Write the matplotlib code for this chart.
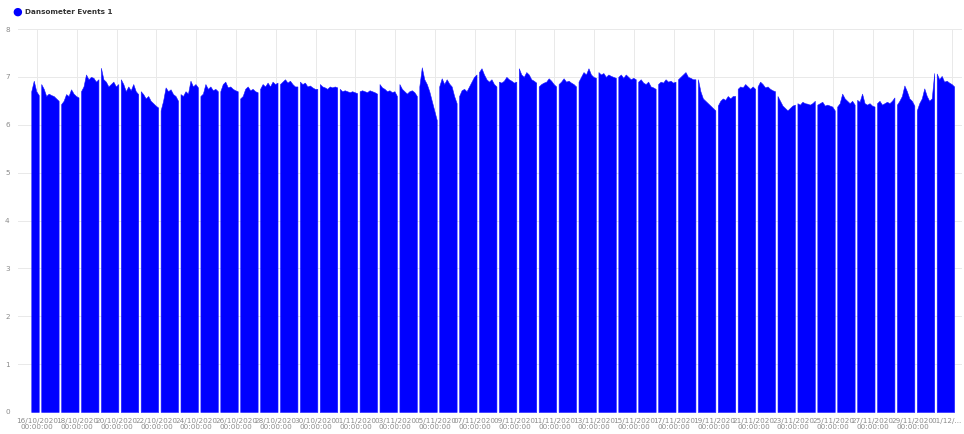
import numpy as np
import pandas as pd
import matplotlib
matplotlib.use("Agg")
import matplotlib.pyplot as plt
import matplotlib.dates as mdates
import matplotlib.transforms as mtransforms

# one block of readings per day, sampled at these hours (26 = 02:00 next day)
slot_hours = [5, 8, 11, 14, 17, 20, 23, 26]
day_start = "2020-10-15"
nan = np.nan

daily_values = [
    [nan, nan, nan, nan, 6.70, 6.92, 6.70, 6.62],  # 15/10 (partial)
    [6.85, 6.75, 6.60, 6.65, 6.62, 6.60, 6.55, 6.50],  # 16/10
    [6.43, 6.50, 6.64, 6.60, 6.74, 6.65, 6.60, 6.57],
    [6.70, 6.80, 7.05, 6.95, 7.00, 6.98, 6.90, 6.95],
    [7.19, 6.95, 6.90, 6.80, 6.85, 6.90, 6.80, 6.85],
    [6.95, 6.85, 6.70, 6.80, 6.72, 6.85, 6.70, 6.64],  # 20/10
    [6.70, 6.64, 6.55, 6.60, 6.50, 6.45, 6.40, 6.36],
    [6.30, 6.50, 6.78, 6.70, 6.74, 6.64, 6.60, 6.50],
    [6.64, 6.60, 6.70, 6.65, 6.92, 6.80, 6.85, 6.78],
    [6.60, 6.65, 6.85, 6.75, 6.80, 6.72, 6.75, 6.70],
    [6.70, 6.85, 6.90, 6.78, 6.80, 6.75, 6.72, 6.70],  # 25/10
    [6.55, 6.60, 6.75, 6.80, 6.72, 6.75, 6.70, 6.68],
    [6.75, 6.85, 6.80, 6.88, 6.80, 6.90, 6.85, 6.88],
    [6.85, 6.90, 6.95, 6.88, 6.92, 6.85, 6.80, 6.80],
    [6.90, 6.85, 6.88, 6.80, 6.82, 6.78, 6.75, 6.75],
    [6.85, 6.80, 6.78, 6.75, 6.80, 6.78, 6.80, 6.78],  # 30/10
    [6.75, 6.70, 6.72, 6.70, 6.68, 6.70, 6.68, 6.66],
    [6.70, 6.72, 6.70, 6.68, 6.72, 6.70, 6.68, 6.65],  # 01/11
    [6.85, 6.78, 6.75, 6.70, 6.72, 6.68, 6.70, 6.60],
    [6.85, 6.75, 6.70, 6.65, 6.70, 6.72, 6.68, 6.60],
    [6.80, 7.20, 6.95, 6.85, 6.70, 6.50, 6.30, 6.10],
    [6.80, 6.97, 6.85, 6.95, 6.86, 6.80, 6.60, 6.45],  # 05/11
    [6.60, 6.72, 6.75, 6.70, 6.80, 6.90, 7.00, 7.05],
    [7.10, 7.18, 7.05, 6.95, 6.90, 6.95, 6.85, 6.80],
    [6.90, 6.88, 6.92, 7.00, 6.95, 6.92, 6.88, 6.90],
    [7.18, 7.05, 7.00, 7.10, 7.05, 6.95, 6.92, 6.88],
    [6.80, 6.85, 6.88, 6.90, 6.97, 6.92, 6.85, 6.80],  # 10/11
    [6.85, 6.90, 6.97, 6.90, 6.92, 6.88, 6.85, 6.80],
    [6.90, 7.00, 7.10, 7.05, 7.18, 7.05, 7.00, 6.98],
    [7.10, 7.05, 7.08, 7.00, 7.05, 7.02, 7.00, 6.98],
    [7.00, 7.05, 6.98, 7.05, 7.00, 6.95, 6.98, 6.95],
    [6.90, 6.95, 6.88, 6.85, 6.90, 6.80, 6.78, 6.75],  # 15/11
    [6.85, 6.90, 6.88, 6.95, 6.90, 6.92, 6.88, 6.90],
    [6.95, 7.00, 7.05, 7.10, 7.00, 6.98, 6.95, 6.95],
    [6.95, 6.70, 6.55, 6.50, 6.45, 6.40, 6.35, 6.30],
    [6.40, 6.50, 6.55, 6.52, 6.60, 6.55, 6.60, 6.60],
    [6.75, 6.80, 6.78, 6.85, 6.80, 6.75, 6.80, 6.75],  # 20/11
    [6.80, 6.90, 6.85, 6.78, 6.80, 6.75, 6.72, 6.70],
    [6.60, 6.50, 6.40, 6.35, 6.30, 6.35, 6.40, 6.42],
    [6.45, 6.42, 6.48, 6.45, 6.44, 6.42, 6.45, 6.50],
    [6.42, 6.45, 6.48, 6.40, 6.42, 6.40, 6.38, 6.30],
    [6.38, 6.45, 6.65, 6.55, 6.50, 6.45, 6.50, 6.42],  # 25/11
    [6.52, 6.48, 6.65, 6.45, 6.42, 6.45, 6.40, 6.38],
    [6.45, 6.50, 6.42, 6.45, 6.48, 6.45, 6.50, 6.57],
    [6.42, 6.50, 6.60, 6.82, 6.70, 6.55, 6.50, 6.40],
    [6.30, 6.45, 6.55, 6.76, 6.60, 6.50, 6.55, 7.08],
    [7.07, 6.95, 7.02, 6.90, 6.92, 6.88, 6.85, 6.80],  # 30/11
]

tick_dates = pd.date_range("2020-10-16", "2020-12-01", freq="2D")
y_ticks = [0, 1, 2, 3, 4, 5, 6, 7, 8]
series_name = "Dansometer Events 1"

fig = plt.figure(figsize=(9.64, 4.34), dpi=100)
ax = fig.add_axes([18 / 964, 1 - 412 / 434, 944 / 964, 383 / 434])

days = pd.date_range(day_start, periods=len(daily_values), freq="D")
for day, vals in zip(days, daily_values):
    vals = np.array(vals)
    t = np.array([day + pd.Timedelta(hours=h) for h in slot_hours])
    ok = ~np.isnan(vals)
    ax.fill_between(mdates.date2num(t[ok]), 0, vals[ok], color="#0000ff",
                    linewidth=0.4, edgecolor="#1a1aff")

ax.set_ylim(0, 8)
ax.set_yticks(y_ticks)
ax.set_yticklabels([str(v) for v in y_ticks])
ax.set_xlim(mdates.date2num(pd.Timestamp("2020-10-15 01:00")),
            mdates.date2num(pd.Timestamp("2020-12-01 11:30")))
ax.set_xticks(mdates.date2num(tick_dates))
xlabels = [d.strftime("%d/%m/%Y\n%H:%M:%S") for d in tick_dates]
xlabels[-1] = "01/12/..."  # the last label is clipped in the original
ax.set_xticklabels(xlabels)

ax.grid(True, color="#e9e9e9", linewidth=0.7)
ax.set_axisbelow(True)
for s in ax.spines.values():
    s.set_visible(False)
ax.tick_params(axis="both", length=0, labelsize=5.2, colors="#8a8a8a")
ax.tick_params(axis="y", pad=6)
ax.tick_params(axis="x", pad=4)
for lab in ax.get_xticklabels():
    lab.set_linespacing(1.1)
last = ax.get_xticklabels()[-1]
last.set_verticalalignment("top")
last.set_transform(last.get_transform() +
                   mtransforms.ScaledTranslation(-6 / 100, 0, fig.dpi_scale_trans))

# legend
fig.text(17 / 964, 1 - 12 / 434, "\u25cf", color="#0000ff", fontsize=8,
         ha="center", va="center")
fig.text(25 / 964, 1 - 12 / 434, series_name, color="#333333", fontsize=5.2,
         fontweight="bold", ha="left", va="center")

fig.savefig("out.png", dpi=100)
